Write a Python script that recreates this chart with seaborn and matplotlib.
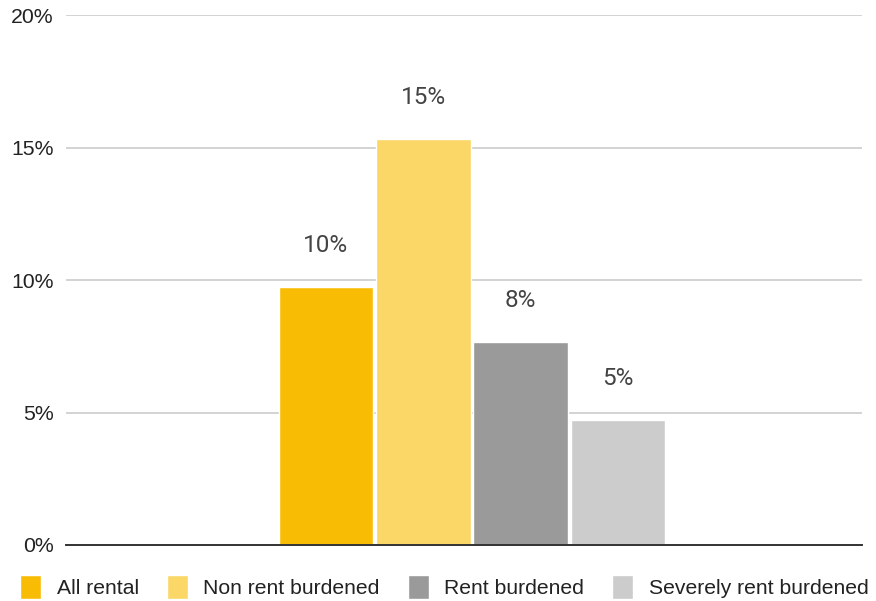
import matplotlib
matplotlib.use("Agg")
import matplotlib.pyplot as plt
import seaborn as sns
import pandas as pd
from matplotlib.ticker import FuncFormatter

# Share of households (percent) by rental category
series = ["All rental", "Non rent burdened", "Rent burdened", "Severely rent burdened"]
values = [9.75, 15.32, 7.66, 4.72]
colors = ["#F9BC05", "#FAD766", "#9A9A9A", "#CCCCCC"]
yticks = [0, 5, 10, 15, 20]

df = pd.DataFrame({"group": [""] * len(series), "series": series, "value": values})

sns.set_theme(style="white")
plt.rcParams["font.family"] = ["Liberation Sans", "DejaVu Sans"]

fig = plt.figure(figsize=(8.76, 6.01), dpi=100)
W, H = 876, 601
ax = fig.add_axes([66 / W, (H - 545) / H, (862 - 66) / W, (545 - 15.3) / H])

sns.barplot(data=df, x="group", y="value", hue="series", hue_order=series,
            palette=colors, width=0.489, gap=0.03, saturation=1, ax=ax,
            legend=True)

ax.set_xlim(-0.51, 0.49)
ax.set_ylim(0, 20)
ax.set_yticks(yticks)
ax.yaxis.set_major_formatter(FuncFormatter(lambda v, _: f"{v:.0f}%"))
ax.tick_params(axis="y", length=0, pad=9, labelsize=15.3, labelcolor="#222222")
ax.tick_params(axis="x", length=0, labelbottom=False)
ax.set_xlabel("")
ax.set_ylabel("")

for s in ["top", "right", "left"]:
    ax.spines[s].set_visible(False)
ax.spines["bottom"].set_color("#333333")
ax.spines["bottom"].set_linewidth(1.4)
ax.spines["bottom"].set_zorder(5)

ax.yaxis.grid(True, color="#CCCCCC", linewidth=1.2)
ax.set_axisbelow(True)

# Value labels above each bar
for patch in ax.patches:
    h = patch.get_height()
    if h <= 0:
        continue
    ax.annotate(f"{h:.0f}%", (patch.get_x() + patch.get_width() / 2, h),
                xytext=(0, 21.5), textcoords="offset points",
                ha="center", va="bottom", fontsize=17.5, color="#444444",
                family=["Roboto", "DejaVu Sans"])

handles, labels = ax.get_legend_handles_labels()
ax.get_legend().remove()
fig.legend(handles, labels, loc="center left",
           bbox_to_anchor=(20 / W, 1 - 587 / H), ncol=4, frameon=False,
           fontsize=15.2, handlelength=1.0, handleheight=1.4,
           handletextpad=0.74, columnspacing=1.32, borderpad=0,
           borderaxespad=0, labelcolor="#222222")

fig.savefig("out.png", dpi=100)
